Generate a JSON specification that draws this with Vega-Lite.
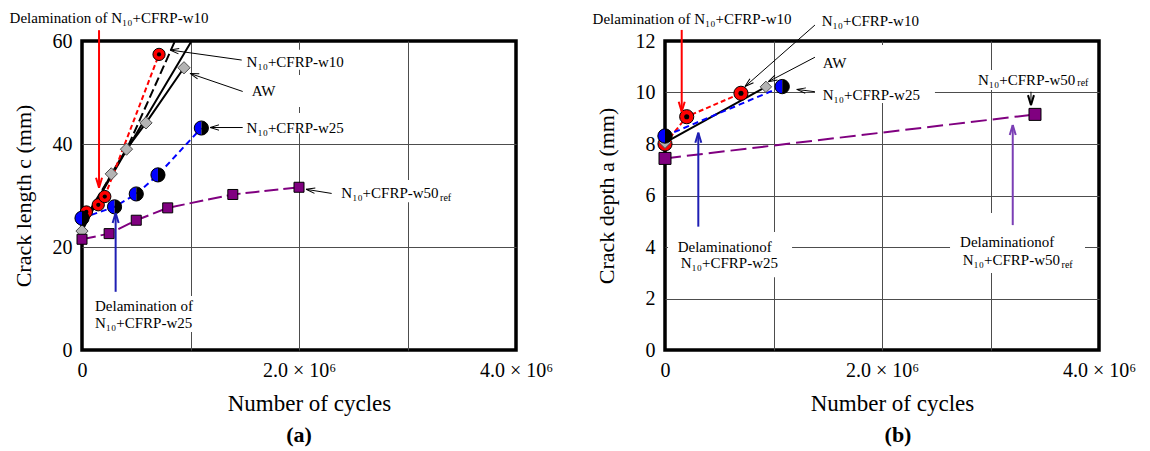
{
  "$schema": "https://vega.github.io/schema/vega-lite/v6.json",
  "background": "white",
  "padding": {"left": 7, "top": 9, "right": 5, "bottom": 5},
  "spacing": 149,
  "bounds": "flush",
  "config": {
    "font": "Liberation Serif",
    "view": {"stroke": "black", "strokeWidth": 3.5},
    "axis": {"labelFont": "Liberation Serif", "titleFont": "Liberation Serif", "labelFontSize": 20, "titleFontSize": 22, "titleFontWeight": "normal", "labelColor": "black", "titleColor": "black", "domain": false, "gridColor": "#4d4d4d", "gridWidth": 1, "ticks": false, "labelFlush": false, "labelOverlap": false},
    "legend": {"disable": true},
    "text": {"font": "Liberation Serif", "fontSize": 15, "color": "black"},
    "title": {"font": "Liberation Serif", "color": "black"}
  },
  "datasets": {
    "lengthSeries": [
      {"series": "AW", "cycles": 0, "c": 23.1},
      {"series": "AW", "cycles": 270000, "c": 34.2},
      {"series": "AW", "cycles": 410000, "c": 39.0},
      {"series": "AW", "cycles": 590000, "c": 44.1},
      {"series": "AW", "cycles": 940000, "c": 54.8},
      {"series": "w10", "cycles": 40000, "c": 26.8},
      {"series": "w10", "cycles": 150000, "c": 28.2},
      {"series": "w10", "cycles": 210000, "c": 29.8},
      {"series": "w10", "cycles": 710000, "c": 57.4},
      {"series": "w25", "cycles": 0, "c": 25.6},
      {"series": "w25", "cycles": 300000, "c": 27.8},
      {"series": "w25", "cycles": 500000, "c": 30.3},
      {"series": "w25", "cycles": 700000, "c": 34.0},
      {"series": "w25", "cycles": 1100000, "c": 43.1},
      {"series": "w50", "cycles": 0, "c": 21.5},
      {"series": "w50", "cycles": 250000, "c": 22.6},
      {"series": "w50", "cycles": 500000, "c": 25.2},
      {"series": "w50", "cycles": 790000, "c": 27.6},
      {"series": "w50", "cycles": 1390000, "c": 30.2},
      {"series": "w50", "cycles": 2000000, "c": 31.6}
    ],
    "lengthFits": [
      {"fit": "solid", "cycles": 0, "c": 24.0},
      {"fit": "solid", "cycles": 410000, "c": 38.8},
      {"fit": "solid", "cycles": 1010000, "c": 60},
      {"fit": "dashed", "cycles": 0, "c": 24.6},
      {"fit": "dashed", "cycles": 410000, "c": 38.9},
      {"fit": "dashed", "cycles": 857000, "c": 60}
    ],
    "lengthBoxes": [
      {"cycles": 1500000, "c": 54.4, "cycles2": 2330000, "c2": 58.3},
      {"cycles": 1500000, "c": 47.2, "cycles2": 2330000, "c2": 53.4},
      {"cycles": 1500000, "c": 42.1, "cycles2": 2330000, "c2": 46.0},
      {"cycles": 2380000, "c": 28.7, "cycles2": 3420000, "c2": 33.0},
      {"cycles": 100000, "c": 3.5, "cycles2": 1060000, "c2": 10.5}
    ],
    "lengthArrows": [
      {"id": "delam10", "kind": "w10", "cycles": 157000, "c": 31.5, "cycles2": 157000, "c2": 62.1},
      {"id": "delam25", "kind": "w25", "cycles": 310000, "c": 26.6, "cycles2": 310000, "c2": 11.3},
      {"id": "ptr10", "kind": "pointer", "cycles": 811000, "c": 58.25, "cycles2": 1472000, "c2": 56.3},
      {"id": "ptrAW", "kind": "pointer", "cycles": 995000, "c": 53.7, "cycles2": 1481000, "c2": 50.2},
      {"id": "ptr25", "kind": "pointer", "cycles": 1180000, "c": 43.2, "cycles2": 1481000, "c2": 43.2},
      {"id": "ptr50", "kind": "pointer", "cycles": 2065000, "c": 31.2, "cycles2": 2301000, "c2": 30.4}
    ],
    "lengthNotes": [
      {"role": "center", "text": "Delamination of N₁₀+CFRP-w10", "cycles": 249000, "c": 64.5},
      {"role": "left", "text": "N₁₀+CFRP-w10", "cycles": 1517000, "c": 56.0},
      {"role": "left", "text": "AW", "cycles": 1564000, "c": 50.2},
      {"role": "left", "text": "N₁₀+CFRP-w25", "cycles": 1517000, "c": 43.2},
      {"role": "left", "text": "N₁₀+CFRP-w50", "cycles": 2390000, "c": 30.4},
      {"role": "sub", "text": "ref", "cycles": 3300000, "c": 29.5},
      {"role": "left", "text": "Delamination of", "cycles": 120000, "c": 8.5},
      {"role": "left", "text": "N₁₀+CFRP-w25", "cycles": 120000, "c": 5.2}
    ],
    "depthSeries": [
      {"series": "AW", "cycles": 0, "a": 8.05},
      {"series": "AW", "cycles": 930000, "a": 10.22},
      {"series": "w10", "cycles": 0, "a": 8.0},
      {"series": "w10", "cycles": 200000, "a": 9.06},
      {"series": "w10", "cycles": 700000, "a": 9.97},
      {"series": "w25", "cycles": 0, "a": 8.31},
      {"series": "w25", "cycles": 1080000, "a": 10.23},
      {"series": "w50", "cycles": 0, "a": 7.44},
      {"series": "w50", "cycles": 3410000, "a": 9.15}
    ],
    "depthBoxes": [
      {"cycles": 1382000, "a": 9.59, "cycles2": 2488000, "a2": 11.84},
      {"cycles": 2848000, "a": 10.1, "cycles2": 3917000, "a2": 10.87},
      {"cycles": 28000, "a": 2.83, "cycles2": 1171000, "a2": 4.58},
      {"cycles": 2627000, "a": 2.99, "cycles2": 3871000, "a2": 5.32}
    ],
    "depthArrows": [
      {"id": "delam10", "kind": "w10", "cycles": 154000, "a": 9.25, "cycles2": 154000, "a2": 12.43},
      {"id": "delam25", "kind": "w25", "cycles": 307000, "a": 8.44, "cycles2": 307000, "a2": 4.79},
      {"id": "delam50", "kind": "w50", "cycles": 3205000, "a": 8.74, "cycles2": 3205000, "a2": 4.85},
      {"id": "ptr10", "kind": "pointer", "cycles": 737000, "a": 10.23, "cycles2": 1382000, "a2": 12.62},
      {"id": "ptrAW", "kind": "pointer", "cycles": 952000, "a": 10.42, "cycles2": 1382000, "a2": 11.37},
      {"id": "ptr25", "kind": "pointer", "cycles": 1214000, "a": 10.12, "cycles2": 1382000, "a2": 10.03},
      {"id": "ptr50", "kind": "pointer", "cycles": 3373000, "a": 9.51, "cycles2": 3373000, "a2": 10.03}
    ],
    "depthNotes": [
      {"role": "center", "text": "Delamination of N₁₀+CFRP-w10", "cycles": 249000, "a": 12.85},
      {"role": "left", "text": "N₁₀+CFRP-w10", "cycles": 1444000, "a": 12.79},
      {"role": "left", "text": "AW", "cycles": 1453000, "a": 11.16},
      {"role": "left", "text": "N₁₀+CFRP-w25", "cycles": 1453000, "a": 9.90},
      {"role": "left", "text": "N₁₀+CFRP-w50", "cycles": 2885000, "a": 10.49},
      {"role": "sub", "text": "ref", "cycles": 3800000, "a": 10.36},
      {"role": "left", "text": "Delaminationof", "cycles": 117000, "a": 4.01},
      {"role": "left", "text": "N₁₀+CFRP-w25", "cycles": 145000, "a": 3.37},
      {"role": "left", "text": "Delaminationof", "cycles": 2720000, "a": 4.20},
      {"role": "left", "text": "N₁₀+CFRP-w50", "cycles": 2744000, "a": 3.50},
      {"role": "sub", "text": "ref", "cycles": 3655000, "a": 3.30}
    ]
  },
  "hconcat": [
    {
      "width": 434,
      "height": 309,
      "title": {"text": "(a)", "orient": "bottom", "anchor": "middle", "fontSize": 22, "fontWeight": "bold", "offset": 10},
      "encoding": {
        "x": {"field": "cycles", "type": "quantitative", "scale": {"domain": [0, 4000000], "nice": false, "zero": false},
          "axis": {"title": "Number of cycles", "titleFontSize": 23, "titleX": 227, "values": [0, 1000000, 2000000, 3000000, 4000000],
            "labelExpr": "datum.value === 0 ? '0' : datum.value === 2000000 ? '2.0 × 10⁶' : datum.value === 4000000 ? '4.0 × 10⁶' : ''",
            "grid": true, "gridOpacity": {"condition": {"test": "datum.value > 0 && datum.value < 4000000", "value": 1}, "value": 0},
            "labelPadding": 10, "titlePadding": 12}},
        "y": {"field": "c", "type": "quantitative", "scale": {"domain": [0, 60], "nice": false},
          "axis": {"title": "Crack length c (mm)", "values": [0, 20, 40, 60], "grid": true,
            "gridOpacity": {"condition": {"test": "datum.value > 0 && datum.value < 60", "value": 1}, "value": 0},
            "labelPadding": 10, "titlePadding": 17}}
      },
      "layer": [
        {"data": {"name": "lengthBoxes"}, "mark": {"type": "rect", "fill": "white"}, "encoding": {"x2": {"field": "cycles2"}, "y2": {"field": "c2"}}},
        {"data": {"name": "lengthFits"}, "transform": [{"filter": "datum.fit === 'solid'"}], "mark": {"type": "line", "color": "black", "strokeWidth": 2}},
        {"data": {"name": "lengthFits"}, "transform": [{"filter": "datum.fit === 'dashed'"}], "mark": {"type": "line", "color": "black", "strokeWidth": 2, "strokeDash": [9, 4]}},
        {"data": {"name": "lengthSeries"}, "transform": [{"filter": "datum.series === 'AW'"}], "mark": {"type": "line", "color": "black", "strokeWidth": 2}},
        {"data": {"name": "lengthSeries"}, "transform": [{"filter": "datum.series === 'w10'"}], "mark": {"type": "line", "color": "#ff0000", "strokeWidth": 2, "strokeDash": [5, 3]}},
        {"data": {"name": "lengthSeries"}, "transform": [{"filter": "datum.series === 'w25'"}], "mark": {"type": "line", "color": "#0000ff", "strokeWidth": 2, "strokeDash": [6, 4]}},
        {"data": {"name": "lengthSeries"}, "transform": [{"filter": "datum.series === 'w50'"}], "mark": {"type": "line", "color": "#800080", "strokeWidth": 2, "strokeDash": [14, 5]}},
        {"data": {"name": "lengthSeries"}, "transform": [{"filter": "datum.series === 'w10'"}], "mark": {"type": "point", "shape": "circle", "filled": true, "fill": "#ff0000", "stroke": "black", "strokeWidth": 1, "size": 150, "opacity": 1}},
        {"data": {"name": "lengthSeries"}, "transform": [{"filter": "datum.series === 'w10'"}], "mark": {"type": "point", "shape": "circle", "filled": true, "color": "black", "size": 18, "opacity": 1}},
        {"data": {"name": "lengthSeries"}, "transform": [{"filter": "datum.series === 'AW'"}], "mark": {"type": "point", "shape": "diamond", "filled": true, "fill": "#b4b4b4", "stroke": "#4d4d4d", "strokeWidth": 1, "size": 150, "opacity": 1}},
        {"data": {"name": "lengthSeries"}, "transform": [{"filter": "datum.series === 'w25'"}], "mark": {"type": "point", "shape": "M0,-1A1,1,0,0,0,0,1Z", "filled": true, "color": "#0000ff", "size": 200, "opacity": 1}},
        {"data": {"name": "lengthSeries"}, "transform": [{"filter": "datum.series === 'w25'"}], "mark": {"type": "point", "shape": "M0,-1A1,1,0,0,1,0,1Z", "filled": true, "color": "black", "size": 200, "opacity": 1}},
        {"data": {"name": "lengthSeries"}, "transform": [{"filter": "datum.series === 'w25'"}], "mark": {"type": "point", "shape": "circle", "filled": false, "color": "black", "strokeWidth": 1, "size": 200, "opacity": 1}},
        {"data": {"name": "lengthSeries"}, "transform": [{"filter": "datum.series === 'w50'"}], "mark": {"type": "point", "shape": "square", "filled": true, "fill": "#800080", "stroke": "black", "strokeWidth": 1, "size": 100, "opacity": 1}},
        {"data": {"name": "lengthArrows"}, "transform": [{"filter": "datum.kind !== 'pointer'"}], "mark": {"type": "rule", "strokeWidth": 2},
          "encoding": {"x2": {"field": "cycles2"}, "y2": {"field": "c2"}, "color": {"field": "kind", "type": "nominal", "scale": {"domain": ["w10", "w25", "w50", "pointer"], "range": ["#ff0000", "#1f1fb4", "#7b3fb5", "#000000"]}, "legend": null}}},
        {"data": {"name": "lengthArrows"}, "transform": [{"filter": "datum.kind === 'pointer'"}], "mark": {"type": "rule", "strokeWidth": 1},
          "encoding": {"x2": {"field": "cycles2"}, "y2": {"field": "c2"}, "color": {"field": "kind", "type": "nominal", "legend": null}}},
        {"data": {"name": "lengthArrows"}, "transform": [{"filter": "datum.id === 'delam10'"}], "mark": {"type": "point", "shape": "M0,0L2,-0.6M0,0L2,0.6", "filled": false, "size": 100, "strokeWidth": 2, "angle": -90, "opacity": 1}, "encoding": {"color": {"field": "kind", "type": "nominal", "legend": null}}},
        {"data": {"name": "lengthArrows"}, "transform": [{"filter": "datum.id === 'delam25'"}], "mark": {"type": "point", "shape": "M0,0L2,-0.6M0,0L2,0.6", "filled": false, "size": 100, "strokeWidth": 2, "angle": 90, "opacity": 1}, "encoding": {"color": {"field": "kind", "type": "nominal", "legend": null}}},
        {"data": {"name": "lengthArrows"}, "transform": [{"filter": "datum.id === 'ptr10'"}], "mark": {"type": "point", "shape": "M0,0L2,-0.6M0,0L2,0.6", "filled": false, "size": 80, "strokeWidth": 1, "angle": 7.9, "opacity": 1}, "encoding": {"color": {"field": "kind", "type": "nominal", "legend": null}}},
        {"data": {"name": "lengthArrows"}, "transform": [{"filter": "datum.id === 'ptrAW'"}], "mark": {"type": "point", "shape": "M0,0L2,-0.6M0,0L2,0.6", "filled": false, "size": 80, "strokeWidth": 1, "angle": 18.9, "opacity": 1}, "encoding": {"color": {"field": "kind", "type": "nominal", "legend": null}}},
        {"data": {"name": "lengthArrows"}, "transform": [{"filter": "datum.id === 'ptr25'"}], "mark": {"type": "point", "shape": "M0,0L2,-0.6M0,0L2,0.6", "filled": false, "size": 80, "strokeWidth": 1, "angle": 0, "opacity": 1}, "encoding": {"color": {"field": "kind", "type": "nominal", "legend": null}}},
        {"data": {"name": "lengthArrows"}, "transform": [{"filter": "datum.id === 'ptr50'"}], "mark": {"type": "point", "shape": "M0,0L2,-0.6M0,0L2,0.6", "filled": false, "size": 80, "strokeWidth": 1, "angle": 9.1, "opacity": 1}, "encoding": {"color": {"field": "kind", "type": "nominal", "legend": null}}},
        {"data": {"name": "lengthNotes"}, "transform": [{"filter": "datum.role === 'center'"}], "mark": {"type": "text", "align": "center", "baseline": "middle", "fontSize": 15}, "encoding": {"text": {"field": "text"}}},
        {"data": {"name": "lengthNotes"}, "transform": [{"filter": "datum.role === 'left'"}], "mark": {"type": "text", "align": "left", "baseline": "middle", "fontSize": 15}, "encoding": {"text": {"field": "text"}}},
        {"data": {"name": "lengthNotes"}, "transform": [{"filter": "datum.role === 'sub'"}], "mark": {"type": "text", "align": "left", "baseline": "middle", "fontSize": 10}, "encoding": {"text": {"field": "text"}}}
      ]
    },
    {
      "width": 434,
      "height": 309,
      "title": {"text": "(b)", "orient": "bottom", "anchor": "middle", "fontSize": 22, "fontWeight": "bold", "offset": 10, "dx": 16},
      "encoding": {
        "x": {"field": "cycles", "type": "quantitative", "scale": {"domain": [0, 4000000], "nice": false, "zero": false},
          "axis": {"title": "Number of cycles", "titleFontSize": 23, "titleX": 227, "values": [0, 1000000, 2000000, 3000000, 4000000],
            "labelExpr": "datum.value === 0 ? '0' : datum.value === 2000000 ? '2.0 × 10⁶' : datum.value === 4000000 ? '4.0 × 10⁶' : ''",
            "grid": true, "gridOpacity": {"condition": {"test": "datum.value > 0 && datum.value < 4000000", "value": 1}, "value": 0},
            "labelPadding": 10, "titlePadding": 12}},
        "y": {"field": "a", "type": "quantitative", "scale": {"domain": [0, 12], "nice": false},
          "axis": {"title": "Crack depth a (mm)", "values": [0, 2, 4, 6, 8, 10, 12], "grid": true,
            "gridOpacity": {"condition": {"test": "datum.value > 0 && datum.value < 12", "value": 1}, "value": 0},
            "labelPadding": 10, "titlePadding": 17}}
      },
      "layer": [
        {"data": {"name": "depthBoxes"}, "mark": {"type": "rect", "fill": "white"}, "encoding": {"x2": {"field": "cycles2"}, "y2": {"field": "a2"}}},
        {"data": {"name": "depthSeries"}, "transform": [{"filter": "datum.series === 'AW'"}], "mark": {"type": "line", "color": "black", "strokeWidth": 2}},
        {"data": {"name": "depthSeries"}, "transform": [{"filter": "datum.series === 'w10'"}], "mark": {"type": "line", "color": "#ff0000", "strokeWidth": 2, "strokeDash": [5, 3]}},
        {"data": {"name": "depthSeries"}, "transform": [{"filter": "datum.series === 'w25'"}], "mark": {"type": "line", "color": "#0000ff", "strokeWidth": 2, "strokeDash": [6, 4]}},
        {"data": {"name": "depthSeries"}, "transform": [{"filter": "datum.series === 'w50'"}], "mark": {"type": "line", "color": "#800080", "strokeWidth": 2, "strokeDash": [16, 6]}},
        {"data": {"name": "depthSeries"}, "transform": [{"filter": "datum.series === 'w10'"}], "mark": {"type": "point", "shape": "circle", "filled": true, "fill": "#ff0000", "stroke": "black", "strokeWidth": 1, "size": 200, "opacity": 1}},
        {"data": {"name": "depthSeries"}, "transform": [{"filter": "datum.series === 'w10'"}], "mark": {"type": "point", "shape": "circle", "filled": true, "color": "black", "size": 26, "opacity": 1}},
        {"data": {"name": "depthSeries"}, "transform": [{"filter": "datum.series === 'AW'"}], "mark": {"type": "point", "shape": "diamond", "filled": true, "fill": "#b4b4b4", "stroke": "#4d4d4d", "strokeWidth": 1, "size": 130, "opacity": 1}},
        {"data": {"name": "depthSeries"}, "transform": [{"filter": "datum.series === 'w25'"}], "mark": {"type": "point", "shape": "M0,-1A1,1,0,0,0,0,1Z", "filled": true, "color": "#0000ff", "size": 205, "opacity": 1}},
        {"data": {"name": "depthSeries"}, "transform": [{"filter": "datum.series === 'w25'"}], "mark": {"type": "point", "shape": "M0,-1A1,1,0,0,1,0,1Z", "filled": true, "color": "black", "size": 205, "opacity": 1}},
        {"data": {"name": "depthSeries"}, "transform": [{"filter": "datum.series === 'w25'"}], "mark": {"type": "point", "shape": "circle", "filled": false, "color": "black", "strokeWidth": 1, "size": 205, "opacity": 1}},
        {"data": {"name": "depthSeries"}, "transform": [{"filter": "datum.series === 'w50'"}], "mark": {"type": "point", "shape": "square", "filled": true, "fill": "#800080", "stroke": "black", "strokeWidth": 1, "size": 144, "opacity": 1}},
        {"data": {"name": "depthArrows"}, "transform": [{"filter": "datum.kind !== 'pointer'"}], "mark": {"type": "rule", "strokeWidth": 2},
          "encoding": {"x2": {"field": "cycles2"}, "y2": {"field": "a2"}, "color": {"field": "kind", "type": "nominal", "scale": {"domain": ["w10", "w25", "w50", "pointer"], "range": ["#ff0000", "#1f1fb4", "#7b3fb5", "#000000"]}, "legend": null}}},
        {"data": {"name": "depthArrows"}, "transform": [{"filter": "datum.kind === 'pointer'"}], "mark": {"type": "rule", "strokeWidth": 1},
          "encoding": {"x2": {"field": "cycles2"}, "y2": {"field": "a2"}, "color": {"field": "kind", "type": "nominal", "legend": null}}},
        {"data": {"name": "depthArrows"}, "transform": [{"filter": "datum.id === 'delam10' || datum.id === 'ptr50'"}], "mark": {"type": "point", "shape": "M0,0L2,-0.6M0,0L2,0.6", "filled": false, "size": 100, "strokeWidth": 2, "angle": -90, "opacity": 1}, "encoding": {"color": {"field": "kind", "type": "nominal", "legend": null}}},
        {"data": {"name": "depthArrows"}, "transform": [{"filter": "datum.id === 'delam25' || datum.id === 'delam50'"}], "mark": {"type": "point", "shape": "M0,0L2,-0.6M0,0L2,0.6", "filled": false, "size": 100, "strokeWidth": 2, "angle": 90, "opacity": 1}, "encoding": {"color": {"field": "kind", "type": "nominal", "legend": null}}},
        {"data": {"name": "depthArrows"}, "transform": [{"filter": "datum.id === 'ptr10'"}], "mark": {"type": "point", "shape": "M0,0L2,-0.6M0,0L2,0.6", "filled": false, "size": 80, "strokeWidth": 1, "angle": -41.3, "opacity": 1}, "encoding": {"color": {"field": "kind", "type": "nominal", "legend": null}}},
        {"data": {"name": "depthArrows"}, "transform": [{"filter": "datum.id === 'ptrAW'"}], "mark": {"type": "point", "shape": "M0,0L2,-0.6M0,0L2,0.6", "filled": false, "size": 80, "strokeWidth": 1, "angle": -27.7, "opacity": 1}, "encoding": {"color": {"field": "kind", "type": "nominal", "legend": null}}},
        {"data": {"name": "depthArrows"}, "transform": [{"filter": "datum.id === 'ptr25'"}], "mark": {"type": "point", "shape": "M0,0L2,-0.6M0,0L2,0.6", "filled": false, "size": 80, "strokeWidth": 1, "angle": 7.2, "opacity": 1}, "encoding": {"color": {"field": "kind", "type": "nominal", "legend": null}}},
        {"data": {"name": "depthNotes"}, "transform": [{"filter": "datum.role === 'center'"}], "mark": {"type": "text", "align": "center", "baseline": "middle", "fontSize": 15}, "encoding": {"text": {"field": "text"}}},
        {"data": {"name": "depthNotes"}, "transform": [{"filter": "datum.role === 'left'"}], "mark": {"type": "text", "align": "left", "baseline": "middle", "fontSize": 15}, "encoding": {"text": {"field": "text"}}},
        {"data": {"name": "depthNotes"}, "transform": [{"filter": "datum.role === 'sub'"}], "mark": {"type": "text", "align": "left", "baseline": "middle", "fontSize": 10}, "encoding": {"text": {"field": "text"}}}
      ]
    }
  ]
}
